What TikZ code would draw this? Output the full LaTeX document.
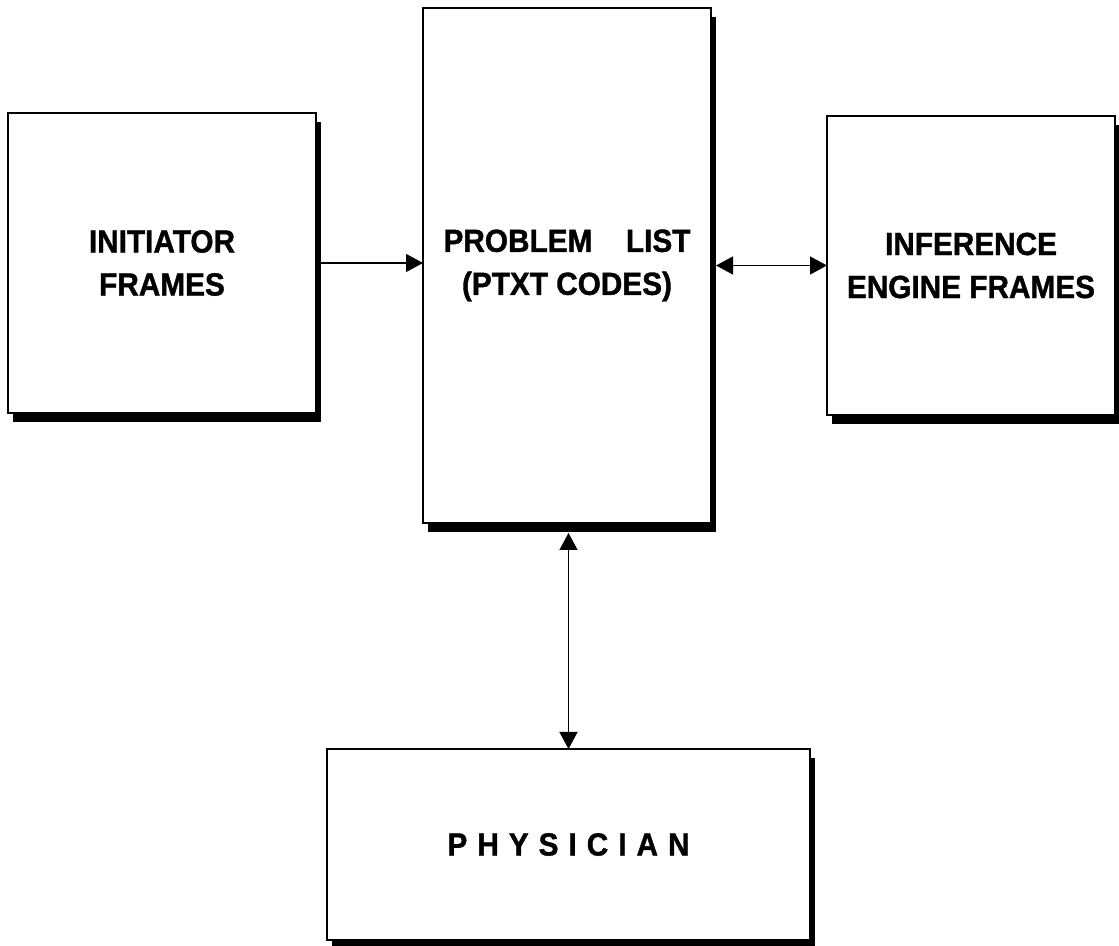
\documentclass[tikz,border=0pt]{standalone}
\usepackage{fontspec}
\newfontfamily\boxfont[FakeStretch=0.93,BoldFeatures={FakeBold=1.2}]{Liberation Sans}
\usetikzlibrary{positioning,shadows,arrows.meta}

\begin{document}
\begin{tikzpicture}
   [x=1pt,y=1pt,>={Triangle[length=17pt,width=18pt]},
    frame/.style={rectangle,draw,line width=1.6pt,fill=white,inner sep=0pt,outer sep=0pt,
      align=center,font=\boxfont\bfseries\fontsize{32}{43}\selectfont,
      drop shadow={shadow xshift=5pt,shadow yshift=-9pt,fill=black,opacity=1}},
    link/.style={line width=1.3pt}]

\useasboundingbox (0,0) rectangle (1119,945);

\node [frame,minimum width=288pt,minimum height=515pt] (plist) at (567,679.5)
  {PROBLEM\hspace{1.05em}LIST\\(PTXT CODES)};
\node [frame,minimum width=308pt,minimum height=300pt,left=107pt of plist,yshift=2.5pt] (init)
  {INITIATOR\\FRAMES};
\node [frame,minimum width=288pt,minimum height=299pt,right=116pt of plist] (infer)
  {INFERENCE\\ENGINE FRAMES};
\node [frame,minimum width=483pt,minimum height=191pt,below=226pt of plist,xshift=1.5pt] (phys)
  {\spaceskip=10pt P H Y S I C I A N};

\draw [link,->] (init.east) -- (init.east -| plist.west);
\draw [link,<->,shorten <=5pt] (plist.east |- infer.west) -- (infer.west);
\draw [link,<->,shorten <=10pt] (plist.south -| phys.north) -- (phys.north);
\end{tikzpicture}
\end{document}
